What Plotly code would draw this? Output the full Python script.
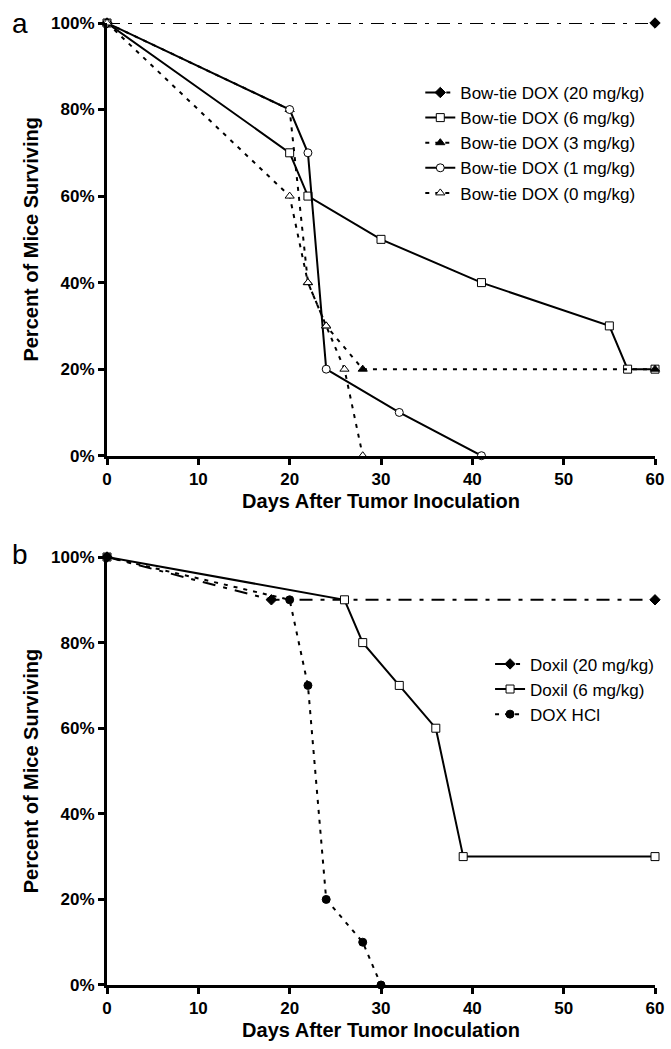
import plotly.graph_objects as go

# ---------------- Panel a data ----------------
a_names = ["Bow-tie DOX (20 mg/kg)", "Bow-tie DOX (6 mg/kg)", "Bow-tie DOX (3 mg/kg)",
           "Bow-tie DOX (1 mg/kg)", "Bow-tie DOX (0 mg/kg)"]
a20_days = [0, 60]
a20_surv = [100, 100]
a6_days = [0, 20, 22, 30, 41, 55, 57, 60]
a6_surv = [100, 70, 60, 50, 40, 30, 20, 20]
a3_days = [0, 20, 22, 24, 28, 60]
a3_surv = [100, 80, 40, 30, 20, 20]
a1_days = [0, 20, 22, 24, 32, 41]
a1_surv = [100, 80, 70, 20, 10, 0]
a0_days = [0, 20, 22, 24, 26, 28]
a0_surv = [100, 60, 40, 30, 20, 0]

# ---------------- Panel b data ----------------
b_names = ["Doxil (20 mg/kg)", "Doxil (6 mg/kg)", "DOX HCl"]
b20_days = [0, 18, 60]
b20_surv = [100, 90, 90]
b6_days = [0, 26, 28, 32, 36, 39, 60]
b6_surv = [100, 90, 80, 70, 60, 30, 30]
bhcl_days = [0, 20, 22, 24, 28, 30]
bhcl_surv = [100, 90, 70, 20, 10, 0]

x_ticks = [0, 10, 20, 30, 40, 50, 60]
y_ticks = [0, 20, 40, 60, 80, 100]
y_ticklabels = ["0%", "20%", "40%", "60%", "80%", "100%"]
x_title = "Days After Tumor Inoculation"
y_title = "Percent of Mice Surviving"

FONT = "Liberation Sans, Arial, sans-serif"
DASHDOT = "13px,8px,4px,8px"
DASH = "4px,6px"

def mk(symbol, fill):
    return dict(symbol=symbol, size=8, color=fill, line=dict(color="black", width=1))

fig = go.Figure()

specs_a = [
    (a20_days, a20_surv, a_names[0], DASHDOT, mk("diamond", "black")),
    (a6_days, a6_surv, a_names[1], "solid", mk("square", "white")),
    (a3_days, a3_surv, a_names[2], DASH, mk("triangle-up", "black")),
    (a1_days, a1_surv, a_names[3], "solid", mk("circle", "white")),
    (a0_days, a0_surv, a_names[4], DASH, mk("triangle-up", "white")),
]
for xs, ys, name, dash, marker in specs_a:
    fig.add_trace(go.Scatter(x=xs, y=ys, name=name, mode="lines+markers",
                             line=dict(color="black", width=2, dash=dash),
                             marker=marker, cliponaxis=False,
                             xaxis="x", yaxis="y", legend="legend"))

specs_b = [
    (b20_days, b20_surv, b_names[0], DASHDOT, mk("diamond", "black")),
    (b6_days, b6_surv, b_names[1], "solid", mk("square", "white")),
    (bhcl_days, bhcl_surv, b_names[2], DASH, mk("circle", "black")),
]
for xs, ys, name, dash, marker in specs_b:
    fig.add_trace(go.Scatter(x=xs, y=ys, name=name, mode="lines+markers",
                             line=dict(color="black", width=2, dash=dash),
                             marker=marker, cliponaxis=False,
                             xaxis="x2", yaxis="y2", legend="legend2"))

tickfont = dict(family=FONT, size=17, color="black", weight="bold")
titlefont = dict(family=FONT, size=20, color="black", weight="bold")

def xax(anchor):
    return dict(range=[0, 60], tickmode="array", tickvals=x_ticks, showline=True, linewidth=3,
                linecolor="black", ticks="outside", ticklen=6, tickwidth=3, tickcolor="black",
                showgrid=False, zeroline=False, tickfont=tickfont, anchor=anchor, automargin=False,
                title=dict(text=x_title, font=titlefont, standoff=6))

def yax(anchor, domain):
    return dict(range=[0, 100], tickmode="array", tickvals=y_ticks, ticktext=y_ticklabels,
                showline=True, linewidth=3, automargin=False,
                linecolor="black", ticks="outside", ticklen=6, tickwidth=3, tickcolor="black",
                showgrid=False, zeroline=False, tickfont=tickfont, anchor=anchor, domain=domain,
                title=dict(text=y_title, font=titlefont, standoff=8))

legfont = dict(family=FONT, size=17, color="black")

fig.update_layout(
    width=671, height=1049,
    margin=dict(l=107, r=13, t=23, b=64),
    paper_bgcolor="white", plot_bgcolor="white",
    xaxis=xax("y"), yaxis=yax("x", [0.5502, 1.0]),
    xaxis2=xax("y2"), yaxis2=yax("x2", [0.0, 0.4449]),
    legend=dict(x=0.5717, y=0.946, xanchor="left", yanchor="top", font=legfont,
                bgcolor="rgba(0,0,0,0)", tracegroupgap=0),
    legend2=dict(x=0.699, y=0.352, xanchor="left", yanchor="top", font=legfont,
                 bgcolor="rgba(0,0,0,0)", tracegroupgap=0),
    annotations=[
        dict(text="a", x=-0.158, y=1.0, xref="paper", yref="paper", showarrow=False,
             xanchor="center", yanchor="middle", font=dict(family=FONT, size=28, color="black")),
        dict(text="b", x=-0.158, y=0.4478, xref="paper", yref="paper", showarrow=False,
             xanchor="center", yanchor="middle", font=dict(family=FONT, size=28, color="black")),
    ],
)

fig.write_html(
    "out.html",
    config={"displayModeBar": False},
    post_script=("document.body.style.margin='0';"
                 "document.body.style.overflow='hidden';"
                 "document.documentElement.style.overflow='hidden';"),
)
